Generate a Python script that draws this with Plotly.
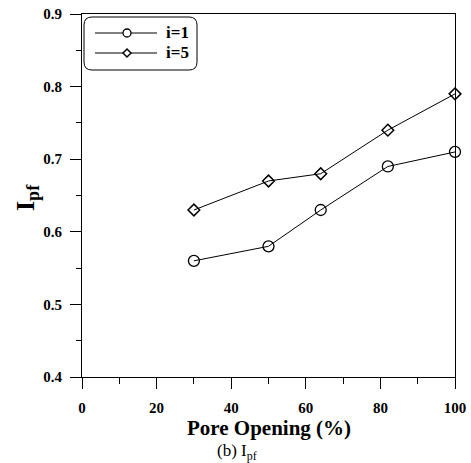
import plotly.graph_objects as go

pore_opening = [30, 50, 64, 82, 100]
ipf_i1 = [0.56, 0.58, 0.63, 0.69, 0.71]
ipf_i5 = [0.63, 0.67, 0.68, 0.74, 0.79]
series_names = ["i=1", "i=5"]

FONT = "Liberation Serif"

fig = go.Figure()
fig.add_trace(go.Scatter(
    x=pore_opening, y=ipf_i1, name=series_names[0], mode="lines+markers",
    line=dict(color="black", width=1), cliponaxis=False,
    marker=dict(symbol="circle-open", size=11, color="black", line=dict(width=1.3)),
))
fig.add_trace(go.Scatter(
    x=pore_opening, y=ipf_i5, name=series_names[1], mode="lines+markers",
    line=dict(color="black", width=1), cliponaxis=False,
    marker=dict(symbol="diamond-open", size=9, color="black", line=dict(width=1.5)),
))

axis_common = dict(
    showgrid=False, zeroline=False, showline=True, linecolor="black", linewidth=1,
    mirror=True, ticks="outside", ticklen=11, tickcolor="black", tickwidth=1,
    automargin=False,
    tickfont=dict(family=FONT, size=15, color="black", weight="bold"),
)
fig.update_xaxes(
    range=[0, 100], dtick=20, tick0=0, ticklabelstandoff=6,
    minor=dict(dtick=10, ticks="outside", ticklen=6, tickcolor="black"),
    **axis_common,
)
fig.update_yaxes(
    range=[0.4, 0.9], dtick=0.1, tick0=0.4, tickformat=".1f", ticklabelstandoff=5,
    minor=dict(dtick=0.05, ticks="outside", ticklen=5, tickcolor="black"),
    **axis_common,
)

W, H = 471, 463
ml, mr, mt, mb = 82, 16, 14, 86
pw, ph = W - ml - mr, H - mt - mb
def px(x): return (x - ml) / pw
def py(y): return 1 - (y - mt) / ph

# rounded legend frame
x0, x1, y0, y1, r = 84, 197, 17, 70, 8
rx, ry = r / pw, r / ph
X0, X1, Y0, Y1 = px(x0), px(x1), py(y1), py(y0)
path = (f"M {X0+rx},{Y0} L {X1-rx},{Y0} Q {X1},{Y0} {X1},{Y0+ry} L {X1},{Y1-ry} "
        f"Q {X1},{Y1} {X1-rx},{Y1} L {X0+rx},{Y1} Q {X0},{Y1} {X0},{Y1-ry} "
        f"L {X0},{Y0+ry} Q {X0},{Y0} {X0+rx},{Y0} Z")
fig.add_shape(type="path", path=path, xref="paper", yref="paper",
              line=dict(color="black", width=1))

# legend entries (drawn manually)
annotations = []
rows = [33, 53]
for name, ry_px, sym in zip(series_names, rows, ["circle", "diamond"]):
    fig.add_shape(type="line", xref="paper", yref="paper",
                  x0=px(95), x1=px(157), y0=py(ry_px), y1=py(ry_px),
                  line=dict(color="black", width=1))
    cx = 127
    if sym == "circle":
        fig.add_shape(type="circle", xref="paper", yref="paper",
                      x0=px(cx - 4), x1=px(cx + 4), y0=py(ry_px + 4), y1=py(ry_px - 4),
                      line=dict(color="black", width=1.3), fillcolor="white")
    else:
        d = 4
        p = (f"M {px(cx-d)},{py(ry_px)} L {px(cx)},{py(ry_px-d)} L {px(cx+d)},{py(ry_px)} "
             f"L {px(cx)},{py(ry_px+d)} Z")
        fig.add_shape(type="path", path=p, xref="paper", yref="paper",
                      line=dict(color="black", width=1.5), fillcolor="white")
    annotations.append(dict(text=f"<b>{name}</b>", xref="paper", yref="paper",
                            x=px(164), y=py(ry_px), xanchor="left", yanchor="middle",
                            showarrow=False, font=dict(family=FONT, size=17, color="black")))

annotations += [
    dict(text="<b>Pore Opening (%)</b>", xref="paper", yref="paper",
         x=0.5, y=py(428), xanchor="center", yanchor="middle", showarrow=False,
         font=dict(family=FONT, size=21, color="black")),
    dict(text="<b>I<sub>pf</sub></b>", xref="paper", yref="paper",
         x=px(27), y=py(198), xanchor="center", yanchor="middle", showarrow=False,
         textangle=-90, font=dict(family=FONT, size=26, color="black")),
    dict(text="(b) I<sub>pf</sub>", xref="paper", yref="paper",
         x=px(237), y=py(452), xanchor="center", yanchor="middle",
         showarrow=False, font=dict(family=FONT, size=17, color="black")),
]

fig.update_layout(
    width=W, height=H,
    margin=dict(l=ml, r=mr, t=mt, b=mb, autoexpand=False),
    paper_bgcolor="white", plot_bgcolor="white",
    showlegend=False,
    annotations=annotations,
)

fig.write_html("out.html", config={"displayModeBar": False},
               post_script="document.body.style.margin='0';document.body.style.overflow='hidden';")
